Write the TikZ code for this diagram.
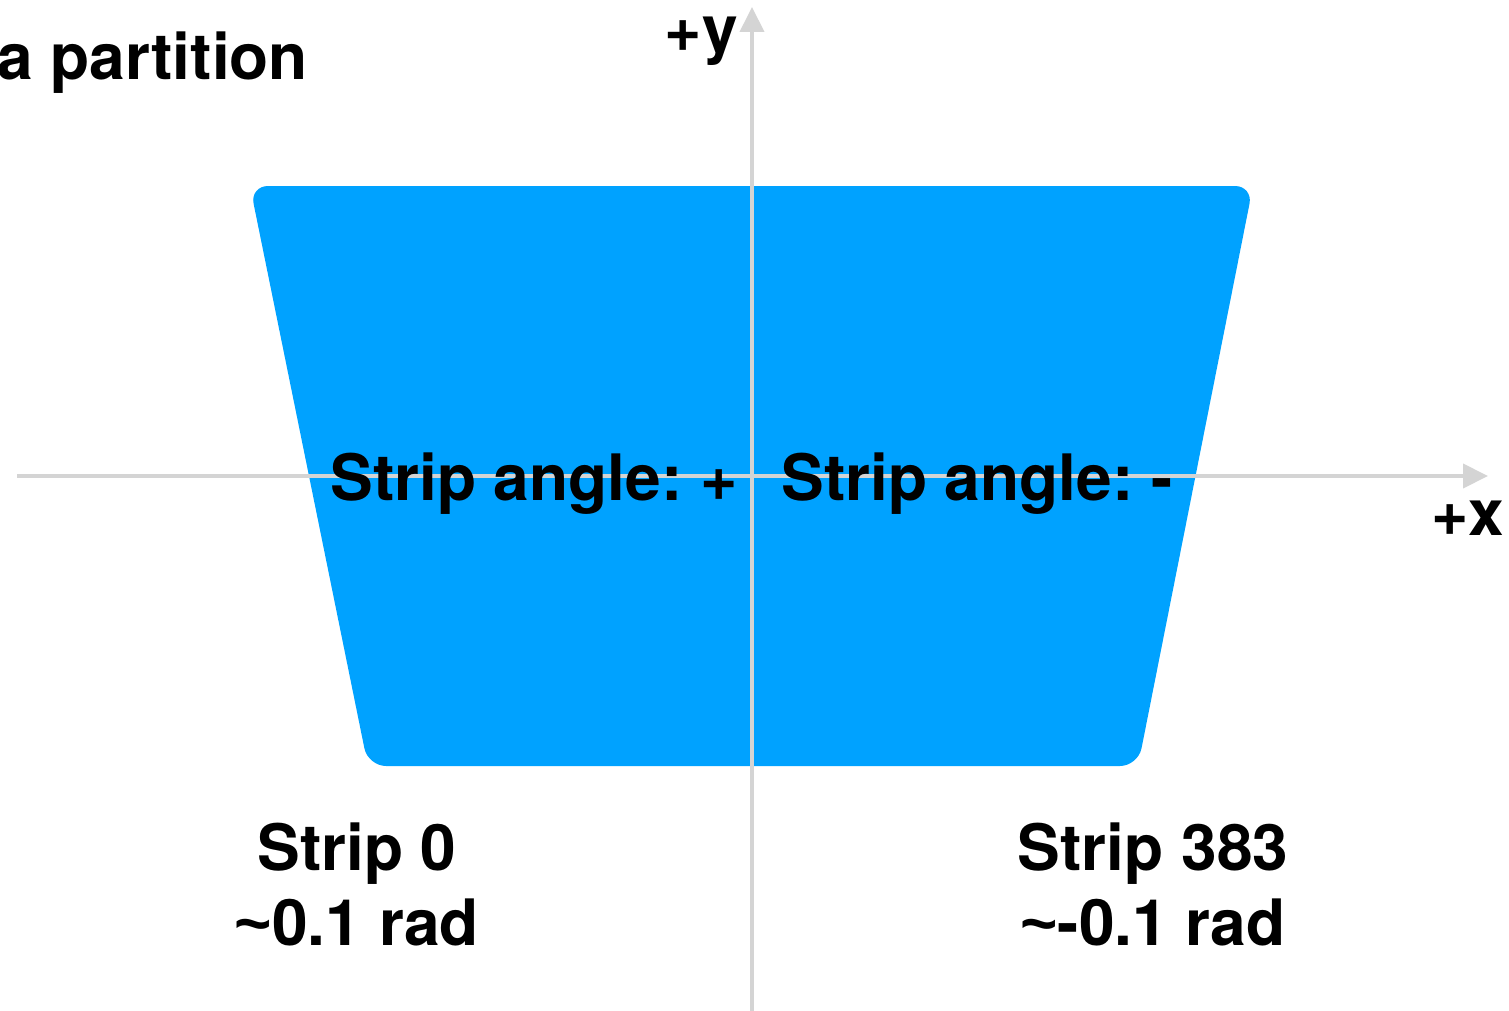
\documentclass[tikz,border=0pt]{standalone}
\usepackage{fontspec}
\setmainfont{TeX Gyre Heros}
\newfontfamily\tildefont{Liberation Sans}
\usetikzlibrary{arrows.meta,positioning}
\definecolor{stripblue}{RGB}{0,162,255}
\definecolor{axisgray}{RGB}{212,212,212}
\newcommand{\approxmark}{{\tildefont\char"7E}}
\frenchspacing
\begin{document}
\begin{tikzpicture}[
      x=0.5pt, y=-0.5pt,
      font=\fontsize{32}{37.5}\selectfont\bfseries,
      plate/.style={fill=stripblue, rounded corners=9pt},
      axis/.style={draw=axisgray, line width=2pt,
        -{Triangle[length=12.5pt, width=12pt]}},
      lbl/.style={inner sep=0pt, anchor=base west},
      endlbl/.style={inner sep=0pt, align=center, anchor=base},
    ]
    \useasboundingbox (0,0) rectangle (1509,1011);

    % the sensor plate, wider at the top
    \fill[plate] (250,186) -- (1253,186) -- (1138,766) -- (368,766) -- cycle;

    % axes through the plate centre
    \coordinate (xleft) at (17,476);
    \coordinate (xright) at (1488,476);
    \coordinate (ybot) at (752,1011);
    \coordinate (ytop) at (752,7);
    \draw[axis] (xleft) -- (xright);
    \draw[axis] (ybot) -- (ytop);
    \node[lbl, anchor=base east] (ylbl) at (738,52) {+y};
    \node[lbl] (xlbl) at (1431,535) {+x};

    \node[lbl] (title) at (-3,80) {a partition};
    \node[lbl] (angpos) at (330,500) {Strip angle: +};
    \node[lbl] (angneg) at (781,500) {Strip angle: -};

    % end strips
    \node[endlbl] (first) at (357,945) {Strip 0\\\approxmark0.1 rad};
    \node[endlbl] (last) at (1153,945) {Strip 383\\\approxmark-0.1 rad};
  \end{tikzpicture}
\end{document}
